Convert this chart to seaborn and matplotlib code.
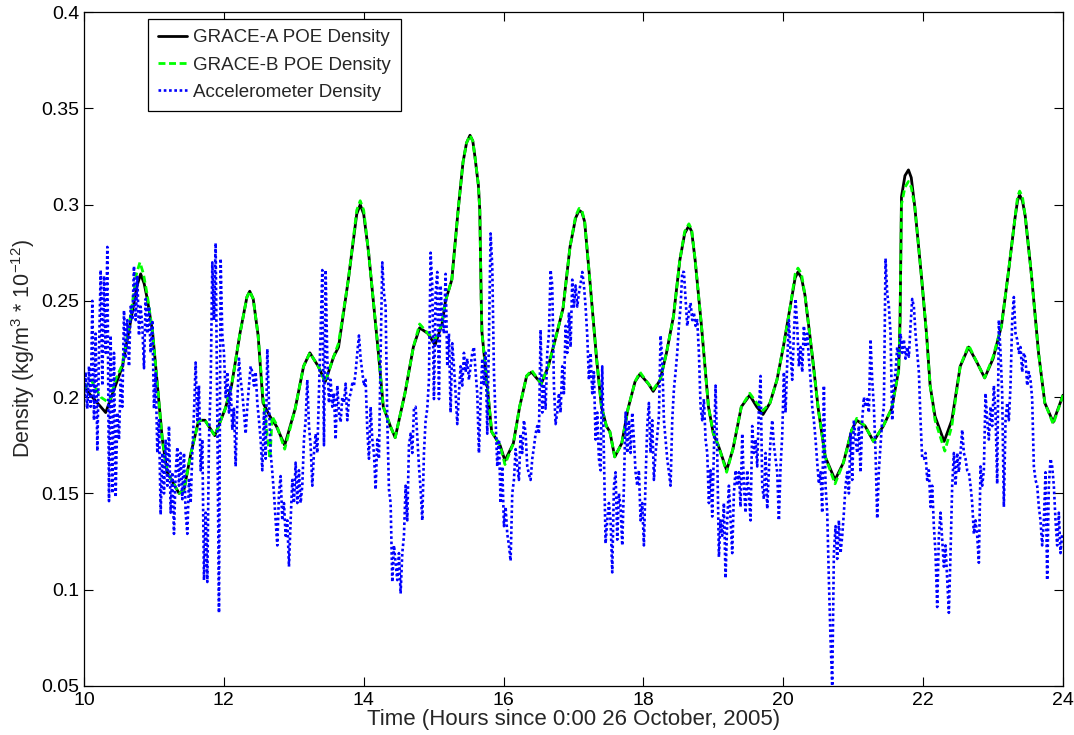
import numpy as np
import matplotlib
matplotlib.use("Agg")
import matplotlib.pyplot as plt
import seaborn as sns

# GRACE-A orbit-derived (POE) density, hours since 0:00 26 Oct 2005
grace_a_hours = [
    10.00, 10.31, 10.45, 10.55, 10.67, 10.76, 10.81, 10.86, 10.905, 10.98,
    11.05, 11.12, 11.19, 11.36, 11.43, 11.53, 11.64, 11.73, 11.87, 12.02,
    12.11, 12.23, 12.33, 12.37, 12.42, 12.49, 12.56, 12.66, 12.75, 12.87,
    13.02, 13.14, 13.23, 13.35, 13.45, 13.57, 13.64, 13.78, 13.90, 13.95,
    14.00, 14.07, 14.21, 14.28, 14.38, 14.45, 14.59, 14.71, 14.80, 14.92,
    15.02, 15.12, 15.17, 15.26, 15.35, 15.42, 15.47, 15.52, 15.56, 15.59,
    15.64, 15.66, 15.68, 15.69, 15.76, 15.83, 15.95, 16.02, 16.14, 16.23,
    16.33, 16.40, 16.54, 16.64, 16.74, 16.85, 16.95, 17.03, 17.08, 17.12,
    17.16, 17.24, 17.33, 17.40, 17.47, 17.52, 17.59, 17.69, 17.78, 17.88,
    17.95, 18.07, 18.14, 18.24, 18.33, 18.43, 18.52, 18.59, 18.65, 18.69,
    18.74, 18.83, 18.93, 19.00, 19.07, 19.19, 19.28, 19.40, 19.52, 19.62,
    19.71, 19.81, 19.91, 20.00, 20.10, 20.17, 20.21, 20.26, 20.31, 20.41,
    20.50, 20.60, 20.74, 20.86, 20.98, 21.05, 21.17, 21.29, 21.43, 21.55,
    21.65, 21.67, 21.69, 21.74, 21.79, 21.83, 21.88, 21.98, 22.05, 22.10,
    22.17, 22.24, 22.30, 22.41, 22.53, 22.65, 22.77, 22.88, 23.00, 23.12,
    23.22, 23.31, 23.35, 23.38, 23.42, 23.46, 23.55, 23.65, 23.74, 23.86,
    24.00,
]
grace_a_density = [
    0.205, 0.192, 0.206, 0.216, 0.240, 0.258, 0.264, 0.259, 0.251, 0.234,
    0.206, 0.178, 0.161, 0.150, 0.152, 0.171, 0.188, 0.188, 0.180, 0.194,
    0.206, 0.233, 0.252, 0.255, 0.251, 0.232, 0.197, 0.190, 0.185, 0.175,
    0.194, 0.216, 0.223, 0.216, 0.208, 0.221, 0.226, 0.261, 0.295, 0.300,
    0.295, 0.275, 0.223, 0.195, 0.185, 0.179, 0.202, 0.226, 0.236, 0.233,
    0.227, 0.238, 0.250, 0.261, 0.297, 0.322, 0.332, 0.336, 0.333, 0.325,
    0.310, 0.297, 0.251, 0.234, 0.208, 0.182, 0.175, 0.167, 0.176, 0.195,
    0.211, 0.213, 0.207, 0.216, 0.230, 0.246, 0.278, 0.293, 0.297, 0.296,
    0.291, 0.258, 0.220, 0.195, 0.185, 0.182, 0.169, 0.176, 0.194, 0.208,
    0.212, 0.207, 0.203, 0.209, 0.223, 0.242, 0.271, 0.285, 0.289, 0.286,
    0.271, 0.237, 0.195, 0.181, 0.175, 0.162, 0.173, 0.195, 0.201, 0.195,
    0.191, 0.197, 0.209, 0.226, 0.247, 0.262, 0.265, 0.262, 0.253, 0.223,
    0.194, 0.169, 0.157, 0.166, 0.183, 0.188, 0.185, 0.177, 0.185, 0.194,
    0.214, 0.240, 0.304, 0.315, 0.318, 0.314, 0.299, 0.261, 0.232, 0.206,
    0.190, 0.183, 0.177, 0.188, 0.216, 0.226, 0.218, 0.210, 0.220, 0.237,
    0.265, 0.292, 0.302, 0.305, 0.302, 0.294, 0.263, 0.223, 0.197, 0.187,
    0.201,
]

# GRACE-B orbit-derived (POE) density
grace_b_hours = [
    10.00, 10.10, 10.24, 10.36, 10.45, 10.55, 10.67, 10.75, 10.80, 10.85,
    10.905, 10.98, 11.05, 11.12, 11.19, 11.36, 11.43, 11.53, 11.64, 11.73,
    11.87, 12.02, 12.11, 12.23, 12.33, 12.37, 12.42, 12.49, 12.56, 12.62,
    12.66, 12.69, 12.75, 12.87, 13.02, 13.14, 13.23, 13.35, 13.45, 13.57,
    13.64, 13.78, 13.90, 13.95, 14.00, 14.07, 14.21, 14.28, 14.38, 14.45,
    14.59, 14.71, 14.80, 14.92, 15.02, 15.12, 15.17, 15.26, 15.35, 15.42,
    15.47, 15.52, 15.56, 15.59, 15.64, 15.66, 15.68, 15.69, 15.76, 15.83,
    15.95, 16.02, 16.14, 16.23, 16.33, 16.40, 16.54, 16.64, 16.74, 16.85,
    16.95, 17.03, 17.08, 17.12, 17.16, 17.24, 17.33, 17.40, 17.47, 17.52,
    17.59, 17.69, 17.78, 17.88, 17.95, 18.07, 18.14, 18.24, 18.33, 18.43,
    18.52, 18.59, 18.65, 18.69, 18.74, 18.83, 18.93, 19.00, 19.07, 19.19,
    19.28, 19.40, 19.52, 19.62, 19.71, 19.81, 19.91, 20.00, 20.10, 20.17,
    20.21, 20.26, 20.31, 20.41, 20.50, 20.60, 20.74, 20.86, 20.98, 21.05,
    21.17, 21.29, 21.43, 21.55, 21.65, 21.67, 21.69, 21.74, 21.79, 21.83,
    21.88, 21.98, 22.05, 22.10, 22.17, 22.24, 22.31, 22.41, 22.53, 22.65,
    22.77, 22.88, 23.00, 23.12, 23.22, 23.31, 23.35, 23.38, 23.42, 23.46,
    23.55, 23.65, 23.74, 23.86, 24.00,
]
grace_b_density = [
    0.204, 0.209, 0.200, 0.197, 0.209, 0.217, 0.243, 0.264, 0.270, 0.264,
    0.253, 0.234, 0.206, 0.178, 0.161, 0.150, 0.152, 0.171, 0.188, 0.188,
    0.180, 0.194, 0.206, 0.233, 0.252, 0.255, 0.251, 0.232, 0.200, 0.180,
    0.168, 0.190, 0.186, 0.173, 0.194, 0.216, 0.223, 0.216, 0.208, 0.221,
    0.228, 0.261, 0.297, 0.302, 0.297, 0.275, 0.223, 0.195, 0.185, 0.179,
    0.202, 0.226, 0.238, 0.233, 0.230, 0.238, 0.250, 0.261, 0.297, 0.322,
    0.332, 0.336, 0.333, 0.325, 0.310, 0.297, 0.251, 0.234, 0.208, 0.182,
    0.175, 0.165, 0.176, 0.195, 0.211, 0.214, 0.207, 0.216, 0.230, 0.246,
    0.278, 0.294, 0.298, 0.297, 0.291, 0.258, 0.220, 0.195, 0.185, 0.182,
    0.169, 0.176, 0.194, 0.208, 0.213, 0.207, 0.204, 0.209, 0.223, 0.242,
    0.271, 0.286, 0.290, 0.287, 0.271, 0.237, 0.195, 0.181, 0.175, 0.161,
    0.173, 0.195, 0.202, 0.197, 0.193, 0.197, 0.209, 0.226, 0.247, 0.264,
    0.267, 0.264, 0.253, 0.223, 0.194, 0.169, 0.155, 0.166, 0.183, 0.189,
    0.185, 0.177, 0.185, 0.194, 0.214, 0.240, 0.300, 0.309, 0.312, 0.309,
    0.299, 0.261, 0.232, 0.206, 0.188, 0.180, 0.172, 0.185, 0.216, 0.227,
    0.218, 0.210, 0.221, 0.237, 0.265, 0.292, 0.304, 0.307, 0.304, 0.294,
    0.263, 0.223, 0.197, 0.186, 0.201,
]

# Accelerometer-derived density, evenly sampled from 10:00
accel_start_hour = 10.0
accel_step_hours = 0.02383
accel_density = [
    0.195, 0.213, 0.194, 0.216, 0.195, 0.250, 0.188, 0.233, 0.172, 0.223,
    0.266, 0.206, 0.263, 0.223, 0.278, 0.146, 0.232, 0.150, 0.223, 0.148,
    0.192, 0.178, 0.209, 0.195, 0.245, 0.220, 0.240, 0.216, 0.247, 0.240,
    0.268, 0.240, 0.263, 0.232, 0.247, 0.237, 0.215, 0.251, 0.233, 0.247,
    0.223, 0.240, 0.194, 0.213, 0.171, 0.188, 0.139, 0.171, 0.150, 0.178,
    0.154, 0.185, 0.140, 0.161, 0.129, 0.161, 0.174, 0.154, 0.171, 0.147,
    0.171, 0.140, 0.129, 0.157, 0.145, 0.171, 0.192, 0.218, 0.188, 0.206,
    0.162, 0.178,
    0.105, 0.140, 0.104, 0.178, 0.206, 0.270, 0.240, 0.280, 0.188, 0.088,
    0.272, 0.232, 0.223, 0.200, 0.213, 0.192, 0.206, 0.183, 0.194, 0.164,
    0.197, 0.220, 0.209, 0.202, 0.192, 0.181, 0.195, 0.206, 0.216, 0.213,
    0.206, 0.213, 0.197, 0.188, 0.178, 0.162, 0.192, 0.168, 0.225, 0.197,
    0.171, 0.161, 0.150, 0.136, 0.123, 0.150, 0.159, 0.136, 0.145, 0.128,
    0.136, 0.112, 0.136, 0.157, 0.145, 0.166, 0.145, 0.162, 0.145, 0.154,
    0.178, 0.188, 0.209, 0.185, 0.175, 0.154, 0.171, 0.181, 0.171, 0.202,
    0.232, 0.266,
    0.175, 0.266, 0.220, 0.197, 0.209, 0.195, 0.202, 0.178, 0.206, 0.192,
    0.187, 0.200, 0.197, 0.207, 0.188, 0.199, 0.202, 0.207, 0.206, 0.213,
    0.223, 0.232, 0.220, 0.213, 0.206, 0.209, 0.183, 0.168, 0.195, 0.178,
    0.171, 0.152, 0.178, 0.168, 0.223, 0.270, 0.254, 0.247, 0.188, 0.152,
    0.145, 0.104, 0.123, 0.114, 0.105, 0.119, 0.098, 0.119, 0.128, 0.154,
    0.136, 0.175, 0.181, 0.171, 0.194, 0.195, 0.180, 0.164, 0.152, 0.136,
    0.171, 0.188, 0.194, 0.209, 0.275, 0.258, 0.199, 0.254, 0.265, 0.199,
    0.258, 0.240,
    0.233, 0.264, 0.216, 0.233, 0.192, 0.228, 0.216, 0.202, 0.186, 0.202,
    0.216, 0.206, 0.223, 0.213, 0.220, 0.209, 0.216, 0.223, 0.226, 0.213,
    0.202, 0.171, 0.199, 0.220, 0.206, 0.223, 0.181, 0.230, 0.285, 0.268,
    0.213, 0.188, 0.164, 0.178, 0.145, 0.164, 0.133, 0.143, 0.129, 0.123,
    0.115, 0.150, 0.157, 0.173, 0.164, 0.157, 0.181, 0.171, 0.188, 0.181,
    0.164, 0.160, 0.157, 0.168, 0.174, 0.181, 0.185, 0.181, 0.235, 0.192,
    0.207, 0.194, 0.223, 0.233, 0.266, 0.258, 0.206, 0.186, 0.192, 0.202,
    0.192, 0.216,
    0.202, 0.237, 0.223, 0.244, 0.226, 0.261, 0.247, 0.258, 0.247, 0.254,
    0.259, 0.265, 0.258, 0.247, 0.232, 0.209, 0.223, 0.202, 0.213, 0.178,
    0.192, 0.168, 0.162, 0.216, 0.171, 0.124, 0.136, 0.145, 0.136, 0.109,
    0.154, 0.161, 0.126, 0.150, 0.143, 0.123, 0.154, 0.192, 0.171, 0.188,
    0.171, 0.192, 0.178, 0.161, 0.154, 0.162, 0.136, 0.145, 0.123, 0.157,
    0.185, 0.197, 0.171, 0.188, 0.157, 0.171, 0.180, 0.190, 0.232, 0.220,
    0.188, 0.178, 0.168, 0.161, 0.154, 0.188, 0.204, 0.213, 0.223, 0.237,
    0.247, 0.265,
    0.265, 0.251, 0.237, 0.244, 0.249, 0.240, 0.244, 0.237, 0.240, 0.223,
    0.195, 0.188, 0.199, 0.178, 0.171, 0.145, 0.162, 0.138, 0.171, 0.206,
    0.171, 0.117, 0.136, 0.128, 0.145, 0.106, 0.136, 0.154, 0.136, 0.119,
    0.150, 0.162, 0.154, 0.161, 0.143, 0.181, 0.154, 0.140, 0.162, 0.150,
    0.136, 0.185, 0.171, 0.178, 0.164, 0.194, 0.211, 0.154, 0.147, 0.171,
    0.142, 0.162, 0.178, 0.188, 0.175, 0.168, 0.161, 0.136, 0.164, 0.180,
    0.213, 0.192, 0.218, 0.240, 0.223, 0.209, 0.233, 0.251, 0.237, 0.216,
    0.226, 0.213,
    0.237, 0.226, 0.233, 0.220, 0.209, 0.195, 0.188, 0.178, 0.166, 0.155,
    0.161, 0.140, 0.206, 0.154, 0.140, 0.105, 0.074, 0.050, 0.119, 0.133,
    0.116, 0.136, 0.119, 0.128, 0.140, 0.154, 0.161, 0.150, 0.181, 0.157,
    0.188, 0.178, 0.171, 0.185, 0.161, 0.188, 0.200, 0.195, 0.199, 0.192,
    0.230, 0.209, 0.195, 0.171, 0.137, 0.162, 0.175, 0.188, 0.195, 0.272,
    0.254, 0.247, 0.233, 0.188, 0.206, 0.213, 0.226, 0.220, 0.233, 0.223,
    0.230, 0.220, 0.226, 0.221, 0.237, 0.251, 0.247, 0.233, 0.223, 0.213,
    0.188, 0.168,
    0.168, 0.171, 0.157, 0.162, 0.143, 0.154, 0.133, 0.119, 0.091, 0.128,
    0.140, 0.126, 0.112, 0.123, 0.105, 0.088, 0.119, 0.154, 0.171, 0.154,
    0.171, 0.161, 0.171, 0.183, 0.171, 0.168, 0.162, 0.161, 0.154, 0.145,
    0.129, 0.136, 0.128, 0.114, 0.164, 0.154, 0.162, 0.202, 0.188, 0.178,
    0.195, 0.185, 0.206, 0.192, 0.155, 0.240, 0.223, 0.202, 0.143, 0.188,
    0.197, 0.188, 0.206, 0.240, 0.252, 0.233, 0.230, 0.223, 0.226, 0.213,
    0.223, 0.220, 0.206, 0.213, 0.209, 0.199, 0.164, 0.157, 0.154, 0.143,
    0.136, 0.123, 0.136, 0.161, 0.105, 0.154, 0.168, 0.164, 0.154, 0.136,
    0.123, 0.140, 0.119, 0.129,
]

x_ticks = [10, 12, 14, 16, 18, 20, 22, 24]
y_ticks = [0.05, 0.1, 0.15, 0.2, 0.25, 0.3, 0.35, 0.4]
y_tick_labels = ["0.05", "0.1", "0.15", "0.2", "0.25", "0.3", "0.35", "0.4"]

sns.set_style("white")
plt.rcParams["font.family"] = ["Liberation Sans", "DejaVu Sans"]
plt.rcParams["mathtext.default"] = "regular"

fig = plt.figure(figsize=(10.74, 7.35), dpi=100)
ax = fig.add_axes([84 / 1074, 1 - 686 / 735, (1063 - 84) / 1074, (686 - 12) / 735])

accel_hours = accel_start_hour + accel_step_hours * np.arange(len(accel_density))

sns.lineplot(x=grace_a_hours, y=grace_a_density, ax=ax, color="black",
             linewidth=2.0, estimator=None, sort=False,
             label="GRACE-A POE Density")
sns.lineplot(x=grace_b_hours, y=grace_b_density, ax=ax, color="#00ff00",
             linewidth=2.0, estimator=None, sort=False,
             label="GRACE-B POE Density")
sns.lineplot(x=accel_hours, y=accel_density, ax=ax, color="#0000ff",
             linewidth=1.9, estimator=None, sort=False,
             label="Accelerometer Density")

lines = ax.get_lines()
lines[1].set_dashes((2.5, 1.3))
lines[2].set_dashes((1.0, 1.0))

ax.set_xlim(10, 24)
ax.set_ylim(0.05, 0.4)
ax.set_xticks(x_ticks)
ax.set_xticklabels([str(t) for t in x_ticks])
ax.set_yticks(y_ticks)
ax.set_yticklabels(y_tick_labels)
ax.tick_params(direction="in", length=6.5, width=0.8, labelsize=14,
               top=True, right=True, bottom=True, left=True, colors="black")
ax.tick_params(axis="x", pad=4)
for spine in ax.spines.values():
    spine.set_visible(True)
    spine.set_color("black")
    spine.set_linewidth(0.9)

ax.set_xlabel("Time (Hours since 0:00 26 October, 2005)", fontsize=16, labelpad=0)
ax.set_ylabel("Density (kg/m$^3$ * 10$^{-12}$)", fontsize=15.5, labelpad=3)

leg = ax.legend(loc="upper left", bbox_to_anchor=(0.065, 0.99),
                borderaxespad=0, fontsize=13.5, frameon=True, fancybox=False,
                framealpha=1, edgecolor="black", handlelength=1.55,
                handletextpad=0.3, labelspacing=0.55, borderpad=0.55)
leg.get_frame().set_linewidth(0.9)

fig.savefig("out.png", dpi=100, facecolor="white")
